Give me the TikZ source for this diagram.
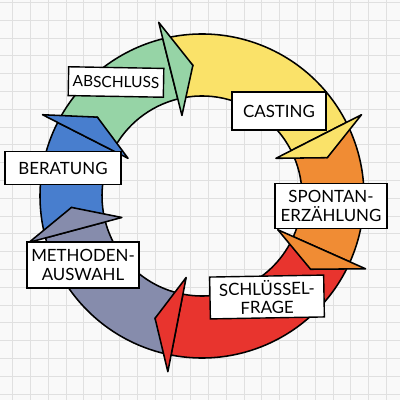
\documentclass[tikz,border=0pt]{standalone}
\usepackage{fontspec}
\setmainfont{Lato}
\usepackage{tikz}
\usetikzlibrary{positioning}

\definecolor{paper}{RGB}{249,249,249}
\definecolor{gridline}{RGB}{224,224,224}
\definecolor{ringgreen}{RGB}{150,212,166}
\definecolor{ringyellow}{RGB}{250,226,105}
\definecolor{ringorange}{RGB}{240,140,52}
\definecolor{ringred}{RGB}{232,52,46}
\definecolor{ringgray}{RGB}{134,140,172}
\definecolor{ringblue}{RGB}{72,126,206}

\tikzset{
    ringpart/.style={draw=black, line width=1.1pt, line join=round},
    labelbox/.style={draw=black, fill=white, line width=1pt, align=center,
        inner sep=3pt, font=\fontsize{12}{13}\selectfont},
    paperline/.style={draw=gridline, line width=0.6pt},
}

% ring radii and barb overhang (picture units)
\newcommand*\ringin{100}
\newcommand*\ringout{162}
\newcommand*\ringmid{131}
\newcommand*\headw{17}
% #1 colour, #2 tail angle, #3 notch angle, #4 head base angle
\newcommand*\ringbody[4]{
    \filldraw[ringpart, fill=#1] (#2:\ringout) arc[start angle=#2, end angle=#4, radius=\ringout]
        -- (#4:\ringin) arc[start angle=#4, end angle=#2, radius=\ringin] -- (#3:\ringmid) -- cycle;}
% #1 colour, #2 head base angle, #3 tip angle
\newcommand*\ringhead[3]{
    \filldraw[ringpart, fill=#1] (#2:{\ringin-\headw}) -- (#3:\ringmid) -- (#2:{\ringout+\headw}) -- cycle;}

\begin{document}
\begin{tikzpicture}[x=0.025cm, y=0.025cm]
    \fill[paper] (0,0) rectangle (400,400);
    \useasboundingbox (0,0) rectangle (400,400);
    \foreach \k in {0,...,22} {
        \draw[paperline] ({12.7+17.8*\k},0) -- ({12.7+17.8*\k},400);
        \draw[paperline] (0,{397.6-17.8*\k}) -- (400,{397.6-17.8*\k});
    }
\begin{scope}[shift={(202,204)}]
    % bodies first, heads on top
    \ringbody{ringblue}{195}{185}{153}
    \ringbody{ringgreen}{153}{143}{104}
    \ringbody{ringyellow}{104}{94}{27}
    \ringbody{ringorange}{27}{17}{-24}
    \ringbody{ringred}{-24}{-34}{-101}
    \ringbody{ringgray}{-101}{-111}{-165}
    \ringhead{ringblue}{153}{143}
    \ringhead{ringgreen}{104}{94}
    \ringhead{ringyellow}{27}{17}
    \ringhead{ringorange}{-24}{-34}
    \ringhead{ringred}{-101}{-111}
    \ringhead{ringgray}{-165}{-175}
\end{scope}
    \node[labelbox, font=\fontsize{11}{12}\selectfont, minimum width=2.3cm, minimum height=0.72cm, rotate=-1] (abschluss) at (116,318) {ABSCHLUSS};
    \node[labelbox, minimum width=2.9cm, minimum height=0.82cm] (beratung) at (63,232) {BERATUNG};
    \node[labelbox, minimum width=2.35cm, minimum height=0.95cm] (casting) at (279,289) {CASTING};
    \node[labelbox, minimum width=2.8cm, minimum height=1.12cm] (spontan) at (331,194) {SPONTAN-\\ERZÄHLUNG};
    \node[labelbox, minimum width=2.85cm, minimum height=1.02cm, rotate=1] (frage) at (267,103) {SCHLÜSSEL-\\FRAGE};
    \node[labelbox, minimum width=2.75cm, minimum height=1.15cm] (methoden) at (83,135) {METHODEN-\\AUSWAHL};
\end{tikzpicture}
\end{document}
